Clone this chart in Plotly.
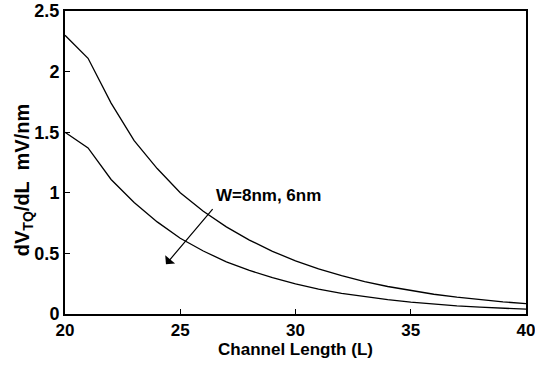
import plotly.graph_objects as go

channel_length = [20, 21, 22, 23, 24, 25, 26, 27, 28, 29, 30, 31, 32, 33, 34, 35, 36, 37, 38, 39, 40]
dv_w8 = [2.30, 2.11, 1.74, 1.43, 1.20, 1.00, 0.848, 0.719, 0.610, 0.517, 0.439, 0.372, 0.316,
         0.268, 0.227, 0.193, 0.163, 0.139, 0.118, 0.100, 0.086]
dv_w6 = [1.50, 1.37, 1.11, 0.92, 0.76, 0.625, 0.52, 0.43, 0.36, 0.30, 0.248, 0.206, 0.171,
         0.142, 0.118, 0.098, 0.081, 0.067, 0.056, 0.047, 0.040]
x_ticks = [20, 25, 30, 35, 40]
x_tick_text = ["20", "25", "30", "35", "40"]
y_ticks = [0, 0.5, 1, 1.5, 2, 2.5]
y_tick_text = ["0", "0.5", "1", "1.5", "2", "2.5"]

FONT = "Liberation Sans, Arial, sans-serif"

fig = go.Figure()
fig.add_trace(go.Scatter(x=channel_length, y=dv_w8, mode="lines",
                         line=dict(color="black", width=1.3), showlegend=False))
fig.add_trace(go.Scatter(x=channel_length, y=dv_w6, mode="lines",
                         line=dict(color="black", width=1.3), showlegend=False))

# arrow
fig.add_annotation(x=24.38, y=0.41, ax=26.46, ay=0.877, xref="x", yref="y",
                   axref="x", ayref="y", showarrow=True, arrowhead=1, arrowsize=1.8,
                   arrowwidth=1.2, arrowcolor="black", text="")
fig.add_annotation(x=26.45, y=0.975, xref="x", yref="y", xanchor="left", yanchor="middle",
                   text="<b>W=8nm, 6nm</b>", showarrow=False,
                   font=dict(family=FONT, size=17, color="black"))

# y title
fig.add_annotation(x=-0.09, y=0.44, xref="paper", yref="paper", textangle=-90,
                   text="<b>dV<sub>TQ</sub>/dL  mV/nm</b>", showarrow=False,
                   xanchor="center", yanchor="middle",
                   font=dict(family=FONT, size=20, color="black"))

fig.update_layout(
    width=535, height=366,
    margin=dict(l=65, r=9, t=11, b=52),
    plot_bgcolor="white", paper_bgcolor="white",
    font=dict(family=FONT, color="black"),
    xaxis=dict(range=[20, 40], tickvals=x_ticks, ticktext=["<b>%s</b>" % t for t in x_tick_text],
               ticks="inside", ticklen=5, tickwidth=1, automargin=False,
               ticklabeloverflow="allow",
               tickcolor="black", showline=True, linecolor="black", linewidth=2,
               mirror=True, showgrid=False, zeroline=False,
               tickfont=dict(family=FONT, size=17, color="black"),
               title=dict(text="<b>Channel Length (L)</b>", standoff=2,
                          font=dict(family=FONT, size=17, color="black"))),
    yaxis=dict(range=[0, 2.5], tickvals=y_ticks, ticktext=["<b>%s</b>" % t for t in y_tick_text],
               ticks="inside", automargin=False, ticklabeloverflow="allow",
               ticklen=5, tickwidth=1, tickcolor="black", showline=True, linecolor="black",
               linewidth=2, mirror=True, showgrid=False, zeroline=False,
               tickfont=dict(family=FONT, size=18, color="black")),
)

fig.write_html("out.html")
